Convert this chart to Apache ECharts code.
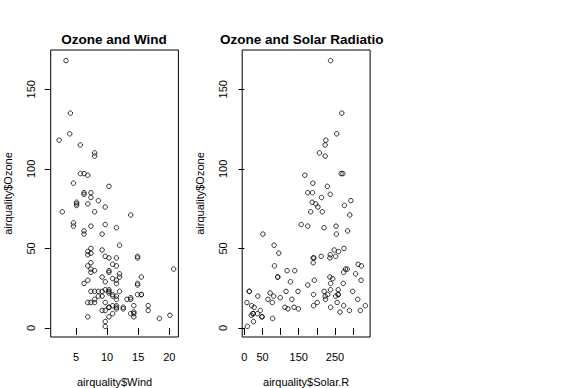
<!DOCTYPE html>
<html>
<head>
<meta charset="utf-8">
<script src="https://cdn.jsdelivr.net/npm/echarts@6/dist/echarts.min.js"></script>
<style>
html,body{margin:0;padding:0;background:#fff;}
#c{width:574px;height:388px;}
</style>
</head>
<body>
<div id="c"></div>
<script>
// airquality data (NA = null)
const ozone = [41,36,12,18,null,28,23,19,8,null,7,16,11,14,18,14,34,6,30,11,1,11,4,32,null,null,null,23,45,115,37,
 null,null,null,null,null,null,29,null,71,39,null,null,23,null,null,21,37,20,12,13,null,null,null,null,null,null,null,null,null,null,
 135,49,32,null,64,40,77,97,97,85,null,10,27,null,7,48,35,61,79,63,16,null,null,80,108,20,52,82,50,64,59,
 39,9,16,78,35,66,122,89,110,null,null,44,28,65,null,22,59,23,31,44,21,9,null,45,168,73,null,76,118,84,85,
 96,78,73,91,47,32,20,23,21,24,44,21,28,9,13,46,18,13,24,16,13,23,36,7,14,30,null,14,18,20];
const solar = [190,118,149,313,null,null,299,99,19,194,null,256,290,274,65,334,307,78,322,44,8,320,25,92,66,266,null,13,252,223,279,
 286,287,242,186,220,264,127,273,291,323,259,250,148,332,322,191,284,37,120,137,150,59,91,250,135,127,47,98,31,138,
 269,248,236,101,175,314,276,267,272,175,139,264,175,291,48,260,274,285,187,220,7,258,295,294,223,81,82,213,275,253,254,
 83,24,77,null,null,null,255,229,207,222,137,192,273,157,64,71,51,115,244,190,259,36,255,212,238,215,153,203,225,237,188,
 167,197,183,189,95,92,252,220,230,259,236,259,238,24,112,237,224,27,238,201,238,14,139,49,20,193,145,191,131,223];
const wind = [7.4,8.0,12.6,11.5,14.3,14.9,8.6,13.8,20.1,8.6,6.9,9.7,9.2,10.9,13.2,11.5,12.0,18.4,11.5,9.7,9.7,16.6,9.7,12.0,16.6,14.9,8.0,12.0,14.9,5.7,7.4,
 8.6,9.7,16.1,9.2,8.6,14.3,9.7,6.9,13.8,11.5,10.9,9.2,8.0,13.8,11.5,14.9,20.7,9.2,11.5,10.3,6.3,1.7,4.6,6.3,8.0,8.0,10.3,11.5,14.9,8.0,
 4.1,9.2,9.2,10.9,4.6,10.9,5.1,6.3,5.7,7.4,8.6,14.3,14.9,14.9,14.3,6.9,10.3,6.3,5.1,11.5,6.9,9.7,11.5,8.6,8.0,8.6,12.0,7.4,7.4,7.4,9.2,
 6.9,13.8,7.4,6.9,7.4,4.6,4.0,10.3,8.0,8.6,11.5,11.5,11.5,9.7,11.5,10.3,6.3,7.4,10.9,10.3,15.5,14.3,12.6,9.7,3.4,8.0,5.7,9.7,2.3,6.3,6.3,
 6.9,5.1,2.8,4.6,7.4,15.5,10.9,10.3,10.9,9.7,14.9,15.5,6.3,10.9,11.5,6.9,13.8,10.3,10.3,8.0,12.6,9.2,10.3,10.3,16.6,6.9,13.2,14.3,8.0,11.5];

const ozoneTicks = [0,50,100,150];
const windTicks = [5,10,15,20];
const solarTicks = [0,50,100,150,200,250,300];
const solarLabels = [0,50,150,250];

function ext(arr){
  const v = arr.filter(x => x !== null);
  const lo = Math.min(...v), hi = Math.max(...v), d = (hi - lo) * 0.04;
  return [lo - d, hi + d];
}
const oz = ext(ozone), wr = ext(wind), sr = ext(solar);

const windPts = [], solarPts = [];
for (let i = 0; i < ozone.length; i++) {
  if (ozone[i] !== null && wind[i] !== null) windPts.push([wind[i], ozone[i]]);
  if (ozone[i] !== null && solar[i] !== null) solarPts.push([solar[i], ozone[i]]);
}

const FONT = 'Liberation Sans, Arial, sans-serif';
function xAx(idx, name, range, ticks, labels){
  return {
    type:'value', gridIndex:idx, min:range[0], max:range[1], name:name,
    nameLocation:'middle', nameGap:39,
    nameTextStyle:{color:'#000', fontSize:11, fontFamily:FONT},
    axisLine:{show:false}, splitLine:{show:false},
    axisTick:{show:true, length:7, customValues:ticks, lineStyle:{color:'#000', width:1}},
    axisLabel:{show:true, margin:14, customValues:labels, color:'#000', fontSize:11, fontFamily:FONT}
  };
}
function yAx(idx){
  return {
    type:'value', gridIndex:idx, min:oz[0], max:oz[1], name:'airquality$Ozone',
    nameLocation:'middle', nameGap:37, nameRotate:90,
    nameTextStyle:{color:'#000', fontSize:11, fontFamily:FONT},
    axisLine:{show:false}, splitLine:{show:false},
    axisTick:{show:true, length:6, customValues:ozoneTicks, lineStyle:{color:'#000', width:1}},
    axisLabel:{show:true, margin:14, rotate:90, customValues:ozoneTicks, color:'#000', fontSize:11, fontFamily:FONT}
  };
}
const sym = {symbol:'circle', symbolSize:4.5, itemStyle:{color:'rgba(0,0,0,0)', borderColor:'#000', borderWidth:1}};

const chart = echarts.init(document.getElementById('c'), null, {renderer:'svg'});
chart.setOption({
  animation:false,
  backgroundColor:'#fff',
  title:[
    {text:'Ozone and Wind', left:114, top:32, textAlign:'center', padding:0,
     textStyle:{fontSize:13.5, fontWeight:'bold', color:'#000', fontFamily:FONT}},
    {text:'Ozone and Solar Radiatio', left:220, top:32, padding:0,
     textStyle:{fontSize:13.5, fontWeight:'bold', color:'#000', fontFamily:FONT}}
  ],
  grid:[
    {left:50.7, top:50, width:127.7, height:287, show:true, borderColor:'#000', borderWidth:1, backgroundColor:'transparent', containLabel:false, outerBoundsMode:'none'},
    {left:242.2, top:50, width:127.9, height:287, show:true, borderColor:'#000', borderWidth:1, backgroundColor:'transparent', containLabel:false, outerBoundsMode:'none'}
  ],
  xAxis:[ xAx(0,'airquality$Wind',wr,windTicks,windTicks), xAx(1,'airquality$Solar.R',sr,solarTicks,solarLabels) ],
  yAxis:[ yAx(0), yAx(1) ],
  series:[
    Object.assign({type:'scatter', xAxisIndex:0, yAxisIndex:0, data:windPts}, sym),
    Object.assign({type:'scatter', xAxisIndex:1, yAxisIndex:1, data:solarPts}, sym)
  ]
});
</script>
</body>
</html>
